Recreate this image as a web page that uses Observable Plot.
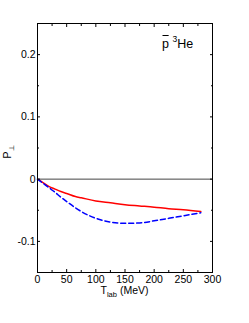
<!DOCTYPE html>
<html><head><meta charset="utf-8">
<script src="https://cdn.jsdelivr.net/npm/d3@7"></script>
<script src="https://cdn.jsdelivr.net/npm/@observablehq/plot@0.6"></script>
<style>html,body{margin:0;padding:0;background:#fff} svg{display:block}</style>
</head><body><div id="chart"></div>
<script>
// T_lab (MeV)
const tlab  = [0, 10, 20, 30, 40, 50, 65, 75, 100, 125, 150, 175, 200, 225, 250, 280];
// P_perp, solid red curve
const pRed  = [0, -0.006, -0.012, -0.016, -0.020, -0.023, -0.028, -0.030, -0.035, -0.038, -0.041, -0.043, -0.045, -0.0475, -0.049, -0.052];
// P_perp, dashed blue curve
const pBlue = [0, -0.007, -0.014, -0.021, -0.029, -0.036, -0.046, -0.052, -0.063, -0.069, -0.071, -0.0705, -0.067, -0.063, -0.059, -0.054];

const xMajor = [0, 50, 100, 150, 200, 250, 300];
const xMinor = [25, 75, 125, 175, 225, 275];
const yMajor = [-0.1, 0, 0.1, 0.2];
const yMinor = [-0.05, 0.05, 0.15];

const redData = tlab.map((t, i) => ({t, p: pRed[i]}));
const blueData = tlab.map((t, i) => ({t, p: pBlue[i]}));
const fmt = d => String(d);
const noText = () => "";

const font = "'Liberation Sans', Arial, Helvetica, sans-serif";

const plot = Plot.plot({
  width: 249, height: 323,
  marginTop: 23, marginRight: 37, marginBottom: 51, marginLeft: 37,
  style: {fontFamily: font, fontSize: "10.5px", background: "white", color: "black", overflow: "visible"},
  x: {domain: [0, 300]},
  y: {domain: [-0.15, 0.25]},
  marks: [
    Plot.ruleY([0], {stroke: "#444", strokeWidth: 1}),
    Plot.line(redData, {x: "t", y: "p", stroke: "#ff0000", strokeWidth: 1.5, curve: "monotone-x"}),
    Plot.line(blueData, {x: "t", y: "p", stroke: "#0000ff", strokeWidth: 1.5, strokeDasharray: "5,3", curve: "monotone-x"}),
    Plot.axisX(xMajor, {anchor: "bottom", tickSize: -3, tickFormat: noText, label: null}),
    Plot.axisX(xMinor, {anchor: "bottom", tickSize: -2, tickFormat: noText, label: null}),
    Plot.axisX(xMajor, {anchor: "top", tickSize: -3, tickFormat: noText, label: null}),
    Plot.axisX(xMinor, {anchor: "top", tickSize: -2, tickFormat: noText, label: null}),
    Plot.axisY(yMajor, {anchor: "left", tickSize: -3, tickFormat: noText, label: null}),
    Plot.axisY(yMinor, {anchor: "left", tickSize: -2, tickFormat: noText, label: null}),
    Plot.axisY(yMajor, {anchor: "right", tickSize: -3, tickFormat: noText, label: null}),
    Plot.axisY(yMinor, {anchor: "right", tickSize: -2, tickFormat: noText, label: null}),
    Plot.axisX(xMajor, {anchor: "bottom", tickSize: 0, tickPadding: 3, tickFormat: fmt, label: null}),
    Plot.axisY(yMajor, {anchor: "left", tickSize: 0, tickPadding: 2, tickFormat: fmt, label: null}),
    Plot.frame({stroke: "black", strokeWidth: 1})
  ]
});
document.getElementById("chart").appendChild(plot);

const svg = d3.select(plot);
const xs = plot.scale("x"), ys = plot.scale("y");
const cx = (xs.range[0] + xs.range[1]) / 2;
const cy = (ys.range[0] + ys.range[1]) / 2;

// x-axis title
const xt = svg.append("text").attr("x", cx).attr("y", 293.5)
  .attr("text-anchor", "middle").style("font-family", font).style("font-size", "10.5px").attr("fill", "black");
xt.append("tspan").text("T");
xt.append("tspan").attr("dy", 3).style("font-size", "7.5px").text("lab");
xt.append("tspan").attr("dy", -3).text(" (MeV)");

// y-axis title
const yt = svg.append("text").attr("transform", `translate(11,${cy + 4}) rotate(-90)`)
  .attr("text-anchor", "middle").style("font-family", font).style("font-size", "10.5px").attr("fill", "black");
yt.append("tspan").text("P");
yt.append("tspan").attr("dy", 3).attr("dx", 1).style("font-size", "7px").text("⊥");

// annotation  p̄ ³He
const ann = svg.append("text").attr("x", 162).attr("y", 48).attr("text-anchor", "start")
  .style("font-family", font).style("font-size", "12.5px").attr("fill", "black");
ann.append("tspan").text("p");
ann.append("tspan").attr("dx", 3.5).attr("dy", -6).style("font-size", "8.5px").text("3");
ann.append("tspan").attr("dy", 6).text("He");
const node = ann.node();
const x0 = node.getStartPositionOfChar(0).x, x1 = node.getEndPositionOfChar(0).x;
svg.append("line").attr("x1", x0 + 0.5).attr("x2", x1 - 0.3).attr("y1", 35.5).attr("y2", 35.5)
  .attr("stroke", "black").attr("stroke-width", 1);
</script>
</body></html>
